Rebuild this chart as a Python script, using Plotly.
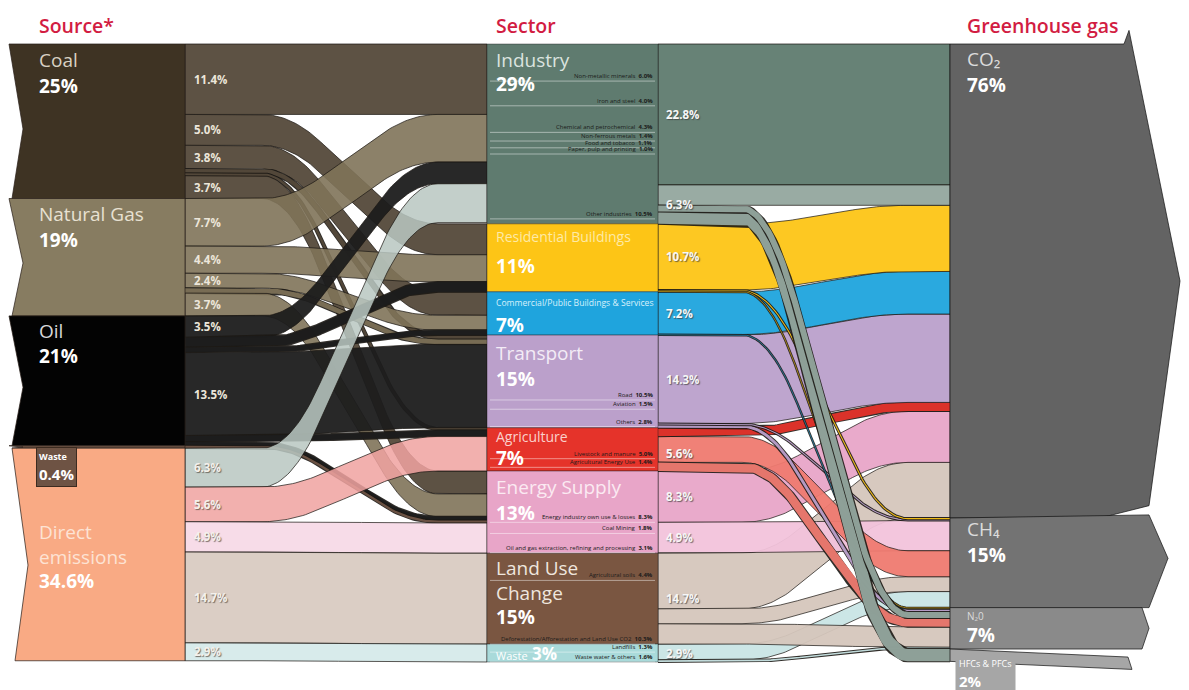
import numpy as np
import plotly.graph_objects as go

# ---------------- data (% of world greenhouse-gas emissions) ----------------
SOURCES = ["Coal", "Natural Gas", "Oil", "Waste", "Direct<br>emissions"]
SOURCE_PCT = ["25%", "19%", "21%", "0.4%", "34.6%"]
SECTORS = ["Industry", "Residential Buildings", "Commercial/Public Buildings & Services",
           "Transport", "Agriculture", "Energy Supply", "Land Use<br>Change", "Waste"]
SECTOR_PCT = ["29%", "11%", "7%", "15%", "7%", "13%", "15%", "3%"]
GASES = ["CO₂", "CH₄", "N₂0", "HFCs & PFCs"]
GAS_PCT = ["76%", "15%", "7%", "2%"]

# source -> sector flows
L1_SRC = [0, 0, 0, 0, 0, 0,   1, 1, 1, 1, 1,   2, 2, 2, 2, 2, 2,   3,   4, 4, 4, 4, 4]
L1_TGT = [0, 1, 2, 3, 4, 5,   0, 1, 2, 3, 5,   0, 1, 2, 3, 4, 5,   5,   0, 4, 5, 6, 7]
L1_VAL = [11.4, 5.0, 3.8, 0.7, 0.4, 3.7,
          7.7, 4.4, 2.4, 0.8, 3.7,
          3.5, 1.6, 0.8, 13.5, 1.0, 0.6,
          0.4,
          6.3, 5.6, 4.9, 14.7, 2.9]

# sector -> gas flows
L2_SRC = [0, 0, 0, 0,  1, 1, 1,  2, 2,  3, 3, 3,  4, 4, 4,  5, 5,  6, 6, 6,  7, 7]
L2_TGT = [0, 0, 2, 3,  0, 1, 2,  0, 2,  0, 1, 2,  0, 1, 2,  0, 1,  0, 1, 2,  1, 2]
L2_VAL = [22.8, 3.3, 1.0, 2.0,  10.7, 0.2, 0.1,  6.9, 0.1,  14.3, 0.2, 0.5,
          1.4, 4.2, 1.4,  8.3, 4.9,  9.0, 2.4, 3.3,  2.6, 0.3]
L2_GRP = [0, 1, 1, 1,  2, -1, -1,  3, -1,  4, -1, -1,  -1, 5, 5,  6, 7,  8, 8, 8,  9, 9]
GRP_LABEL = [22.8, 6.3, 10.7, 7.2, 14.3, 5.6, 8.3, 4.9, 14.7, 2.9]

# sub-sector breakdown printed inside the sector blocks
SUB_SEC = [0, 0, 0, 0, 0, 0, 0, 3, 3, 3, 4, 4, 5, 5, 5, 6, 6, 7, 7]
SUB_NAME = ["Non-metallic minerals", "Iron and steel", "Chemical and petrochemical",
            "Non-ferrous metals", "Food and tobacco", "Paper, pulp and printing",
            "Other industries", "Road", "Aviation", "Others",
            "Livestock and manure", "Agricultural Energy Use",
            "Energy industry own use & losses", "Coal Mining",
            "Oil and gas extraction, refining and processing",
            "Agricultural soils", "Deforestation/Afforestation and Land Use CO2",
            "Landfills", "Waste water & others"]
SUB_VAL = [6.0, 4.0, 4.3, 1.4, 1.1, 1.0, 10.5, 10.5, 1.5, 2.8, 5.0, 1.4,
           8.3, 1.8, 3.1, 4.4, 10.3, 1.3, 1.6]

# ---------------- styles / layout constants ----------------
W, H = 1189, 690
PAGE_OFF = 8            # the html page body margin shifts the figure by this many px
PX_PER_PCT = 6.18
TOP_PX = 44
Y_LO = (PAGE_OFF - TOP_PX) / PX_PER_PCT
Y_HI = (PAGE_OFF + H - TOP_PX) / PX_PER_PCT
XS0, XS1 = 9, 185
XC0, XC1 = 487, 658
XG0 = 950
CURVE1 = (262, 438)
CURVE2 = (742, 908)
EASE = 0.33             # share of each curve spent rounding the corners
TUBE_MAX = 2.2          # flows up to this size are drawn as outlined tubes
FONT = "Open Sans"
# stacking order of the incoming sectors at each gas block (top to bottom)
GAS_IN_RANK = [[0, 1, 2, 3, 4, 5, 6, 7],
               [1, 3, 5, 4, 6, 7, 0, 2],
               [1, 2, 3, 0, 4, 5, 6, 7],
               [0, 1, 2, 3, 4, 5, 6, 7]]

SRC_COLOR = ["#3e3323", "#877c61", "#030303", "#6e5344", "#f9aa84"]
SRC_FLOW_COLOR = ["#54493a", "#7f7359", "#1c1c1c", "#6e5344", "#f9aa84"]
SRC_FLOW_ALPHA = [0.95, 0.9, 0.95, 0.95, 0.86]
DIRECT_FLOW_COLOR = {0: "#b9c7c1", 4: "#f0a3a1", 5: "#f6d6e4", 6: "#d5c6bc", 7: "#d2e8e8"}
SEC_COLOR = ["#5f7b6f", "#fdc516", "#1fa4dd", "#bba0cb", "#e5332a", "#e8a5c8", "#7a5641", "#a9dada"]
SEC_NAME_COLOR = ["#dbe3df", "#feeaa6", "#d8f1fb", "#f3ecf6", "#fad0cb", "#fbeaf2", "#efe6de", "#f2fafa"]
SEC_NAME_SIZE = [19, 14, 8.6, 19, 14, 19, 19, 11]
SEC_NAME_OFF = [16, 13, 11, 18, 9, 16, 27, 9]
SEC_PCT_OFF = [40, 42, 33, 44, 30, 42, 64, 9]
GRP_COLOR = ["#5f7b6f", "#93a69e", "#fdc516", "#1fa4dd", "#bba0cb", "#ef7a70",
             "#e8a5c8", "#f2c3db", "#d5c6bc", "#c9e5e5"]
GAS_COLOR = ["#636363", "#737373", "#8a8a8a", "#a6a6a6"]
OUTLINE = "rgba(28,24,20,0.9)"


def rgba(h, a):
    h = h.lstrip("#")
    return f"rgba({int(h[0:2], 16)},{int(h[2:4], 16)},{int(h[4:6], 16)},{a})"


# ---------------- layout computation ----------------
nS, nC, nG = len(SOURCES), len(SECTORS), len(GASES)
K1, K2 = range(len(L1_VAL)), range(len(L2_VAL))
src_size = [sum(L1_VAL[k] for k in K1 if L1_SRC[k] == i) for i in range(nS)]
sec_in = [sum(L1_VAL[k] for k in K1 if L1_TGT[k] == j) for j in range(nC)]
sec_out = [sum(L2_VAL[k] for k in K2 if L2_SRC[k] == j) for j in range(nC)]
sec_size = [max(a, b) for a, b in zip(sec_in, sec_out)]
gas_size = [sum(L2_VAL[k] for k in K2 if L2_TGT[k] == g) for g in range(nG)]


def tops(sizes):
    return [float(v) for v in np.concatenate([[0.0], np.cumsum(sizes)[:-1]])]


src_top, sec_top, gas_top = tops(src_size), tops(sec_size), tops(gas_size)


def stack(node_of, key, vals, node_tops, n):
    pos = {}
    for i in range(n):
        ks = sorted([k for k in range(len(vals)) if node_of[k] == i], key=key)
        y = node_tops[i]
        for k in ks:
            pos[k] = y
            y += vals[k]
    return pos


p1s = stack(L1_SRC, lambda k: (L1_TGT[k], k), L1_VAL, src_top, nS)
p1t = stack(L1_TGT, lambda k: (L1_SRC[k], k), L1_VAL, sec_top, nC)
p2s = stack(L2_SRC, lambda k: (L2_TGT[k], k), L2_VAL, sec_top, nC)
p2t = stack(L2_TGT, lambda k: (GAS_IN_RANK[L2_TGT[k]].index(L2_SRC[k]), k), L2_VAL, gas_top, nG)


def ease(u, r=EASE):
    vmax = 1.0 / (1.0 - r)
    return np.where(u < r, vmax * u ** 2 / (2 * r),
                    np.where(u > 1 - r, 1 - vmax * (1 - u) ** 2 / (2 * r), vmax * (u - r / 2)))


def edge(xa, xb, curve, ya, yb):
    u = np.linspace(0, 1, 70)
    ca, cb = curve
    bx = ca + (cb - ca) * u
    return [xa] + list(bx) + [xb], [ya] + list(ya + (yb - ya) * ease(u)) + [yb]


fig = go.Figure()


def poly(xs, ys, fill, line=OUTLINE, lw=0.8):
    fig.add_trace(go.Scatter(x=xs, y=ys, mode="lines", fill="toself", fillcolor=fill,
                             line=dict(color=line, width=lw), hoverinfo="skip", showlegend=False))


def flow(xa, xb, curve, ya, yb, h, col):
    if h <= TUBE_MAX:
        xs, ys = edge(xa, xb, curve, ya + h / 2, yb + h / 2)
        w = h * PX_PER_PCT
        fig.add_trace(go.Scatter(x=xs, y=ys, mode="lines", line=dict(color=OUTLINE, width=w + 1.8),
                                 hoverinfo="skip", showlegend=False))
        fig.add_trace(go.Scatter(x=xs, y=ys, mode="lines", line=dict(color=col, width=max(w - 0.2, 0.6)),
                                 hoverinfo="skip", showlegend=False))
    else:
        xs, yt = edge(xa, xb, curve, ya, yb)
        yb_ = [v + h for v in yt]
        poly(xs + xs[::-1] + [xs[0]], yt + yb_[::-1] + [yt[0]], col)


# source -> sector bands
for k in sorted(K1, key=lambda k: (L1_SRC[k], k)):
    s, t = L1_SRC[k], L1_TGT[k]
    col = DIRECT_FLOW_COLOR[t] if s == 4 else SRC_FLOW_COLOR[s]
    flow(XS1, XC0, CURVE1, p1s[k], p1t[k], L1_VAL[k], rgba(col, SRC_FLOW_ALPHA[s]))

# sector -> gas bands (bottom sectors first so industry bands sit on top)
for k in sorted(K2, key=lambda k: (-L2_SRC[k], -L2_VAL[k])):
    s = L2_SRC[k]
    col = GRP_COLOR[L2_GRP[k]] if L2_GRP[k] >= 0 else SEC_COLOR[s]
    flow(XC1, XG0, CURVE2, p2s[k], p2t[k], L2_VAL[k], rgba(col, 0.95))

# source nodes (notched left edge)
for i in range(nS):
    t0, b0 = src_top[i], src_top[i] + src_size[i]
    xl = XS0 + (3 if i == 4 else 0)
    notch = xl + (16 if i == 4 else 14)
    poly([xl, XS1, XS1, xl + 3, notch, xl], [t0, t0, b0, b0, t0 + 0.55 * (b0 - t0), t0],
         SRC_COLOR[i], line="rgba(40,30,25,0.9)", lw=0.8)

# sector nodes
for j in range(nC):
    t0, b0 = sec_top[j], sec_top[j] + sec_size[j]
    poly([XC0, XC1, XC1, XC0, XC0], [t0, t0, b0, b0, t0], SEC_COLOR[j], line="rgba(30,30,30,0.7)", lw=0.6)

# gas nodes
for g in range(nG):
    t0, b0 = gas_top[g], gas_top[g] + gas_size[g]
    h = b0 - t0
    if g == 0:
        xs = [XG0, 1124, 1129, 1180, 1149, 1100, XG0, XG0]
        ys = [t0, t0, t0 - 2.2, t0 + 0.5 * h, b0 - 2.0, b0, b0, t0]
    elif g == 1:
        xs = [XG0, 1149, 1168, 1149, XG0, XG0]
        ys = [t0, t0 - 0.5, t0 + 0.45 * h, b0, b0, t0]
    elif g == 2:
        xs = [XG0, 1142, 1149, 1142, XG0, XG0]
        ys = [t0, t0, t0 + 0.5 * h, b0, b0, t0]
    else:
        xs = [XG0, 1128, 1132, XG0, XG0]
        ys = [t0, t0 + 1.3, b0 + 1.3, b0, t0]
    poly(xs, ys, GAS_COLOR[g], line="rgba(20,20,20,0.9)", lw=0.8)

ann = []
shapes = []


def text(x, y, s, size, color, xanchor="left", yanchor="middle", yshift=0, weight=None,
         shadow="none", xref="x", yref="y", **kw):
    f = dict(family=FONT, size=size, color=color, shadow=shadow)
    if weight:
        f["weight"] = weight
    ann.append(dict(x=x, y=y, xref=xref, yref=yref, text=s, showarrow=False, font=f,
                    xanchor=xanchor, yanchor=yanchor, yshift=yshift, **kw))


# column titles
for x, s in [(37, "Source*"), (494, "Sector"), (965, "Greenhouse gas")]:
    text(x, 1 - (25 - PAGE_OFF) / H, s, 19.5, "#d21c42", yref="paper", weight=600)

# source labels
SRC_NAME_OFF = [16, 15, 15, 0, 96]
SRC_PCT_OFF = [42, 41, 40, 0, 133]
SRC_NAME_COLOR = ["#d9d1c3", "#e8e1d2", "#d8d8d8", "#ffffff", "#fde3d4"]
for i in range(nS):
    if i == 3:
        continue
    text(37, src_top[i], SOURCES[i], 19, SRC_NAME_COLOR[i], yshift=-SRC_NAME_OFF[i], align="left")
    text(37, src_top[i], SOURCE_PCT[i], 19, "#ffffff", weight="bold", yshift=-SRC_PCT_OFF[i])
# small waste source box
text(36, src_top[3], f"<span style='font-size:9px'>{SOURCES[3]}</span><br>{SOURCE_PCT[3]}", 15,
     "#ffffff", yanchor="top", yshift=-1, weight="bold", bgcolor=SRC_COLOR[3],
     bordercolor="#3c2b20", borderwidth=1, borderpad=2, align="left")

# flow labels (source side)
for k in K1:
    if L1_VAL[k] >= 2:
        light = L1_SRC[k] == 4
        text(192, p1s[k] + L1_VAL[k] / 2, f"{L1_VAL[k]:.1f}%", 11.5,
             "#f4f1ec" if light else "#ece6da", weight="bold",
             shadow="1px 1px 1px rgba(90,80,70,0.8)" if light else "none")

# sector labels
for j in range(nC):
    if j == 7:
        text(494, sec_top[j], f"<span style='font-size:11px'>{SECTORS[j]}</span> <b>{SECTOR_PCT[j]}</b>",
             17, "#ffffff", yshift=-SEC_NAME_OFF[j])
        continue
    text(494, sec_top[j], SECTORS[j], SEC_NAME_SIZE[j], SEC_NAME_COLOR[j],
         yshift=-SEC_NAME_OFF[j], align="left")
    text(494, sec_top[j], SECTOR_PCT[j], 19, "#ffffff", weight="bold", yshift=-SEC_PCT_OFF[j])

# sub-sector labels + divider lines
cum = {}
for i in range(len(SUB_VAL)):
    j = SUB_SEC[i]
    cum[j] = cum.get(j, 0.0) + SUB_VAL[i]
    y = sec_top[j] + cum[j]
    shapes.append(dict(type="line", xref="x", yref="y", x0=XC0 + 3, x1=XC1 - 3, y0=y, y1=y,
                       line=dict(color="rgba(255,255,255,0.45)", width=1)))
    text(655, y, f"{SUB_NAME[i]}  <b>{SUB_VAL[i]:.1f}%</b>", 6, "#1b1b1b",
         xanchor="right", yanchor="bottom", yshift=-1)

# group labels (sector -> gas side)
for gi, v in enumerate(GRP_LABEL):
    ks = [k for k in K2 if L2_GRP[k] == gi]
    y0 = min(p2s[k] for k in ks)
    y1 = max(p2s[k] + L2_VAL[k] for k in ks)
    text(664, (y0 + y1) / 2, f"{v:.1f}%", 11.5, "#f7f7f7", weight="bold",
         shadow="1px 1px 1px rgba(60,60,60,0.7)")

# gas labels
GAS_NAME_SIZE = [19, 19, 10, 9]
GAS_NAME_OFF = [15, 11, 8, 0]
GAS_PCT_OFF = [41, 37, 27, 0]
for g in range(nG):
    if g == 3:
        text(955, gas_top[g], f"<span style='font-size:9px;font-weight:normal'>{GASES[g]}</span><br>{GAS_PCT[g]}",
             15, "#ffffff", yanchor="top", yshift=-4, weight="bold", bgcolor=GAS_COLOR[g],
             borderpad=3, align="left")
        continue
    text(965, gas_top[g], GASES[g], GAS_NAME_SIZE[g], "#dcdcdc", yshift=-GAS_NAME_OFF[g])
    text(965, gas_top[g], GAS_PCT[g], 19, "#ffffff", weight="bold", yshift=-GAS_PCT_OFF[g])

fig.update_layout(
    width=W, height=H, autosize=False,
    margin=dict(l=0, r=0, t=0, b=0),
    paper_bgcolor="white", plot_bgcolor="white",
    xaxis=dict(range=[PAGE_OFF, W + PAGE_OFF], visible=False, fixedrange=True),
    yaxis=dict(range=[Y_HI, Y_LO], visible=False, fixedrange=True),
    annotations=ann, shapes=shapes, showlegend=False,
)

fig.write_html("out.html")
